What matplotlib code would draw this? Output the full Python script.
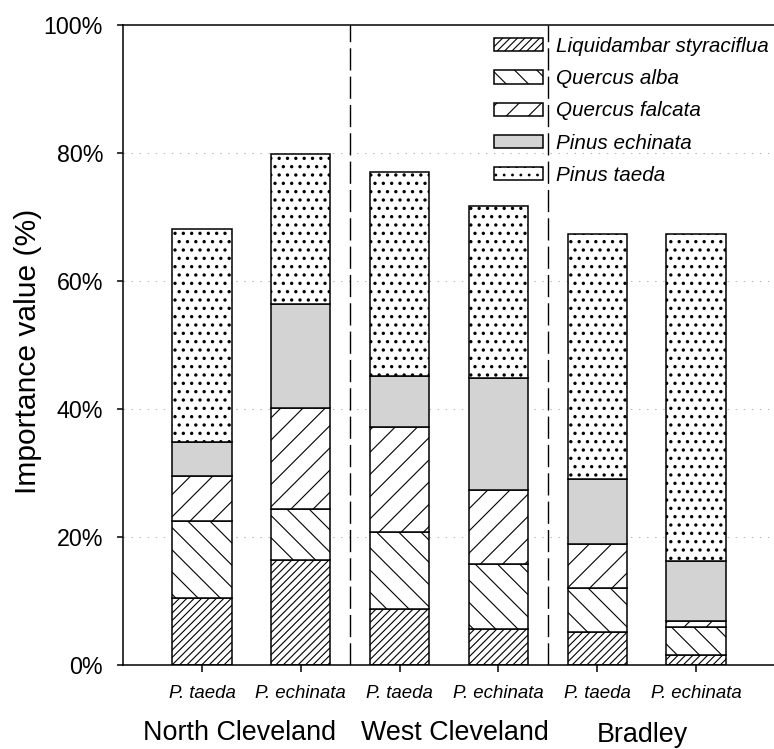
import matplotlib
matplotlib.use("Agg")
import matplotlib.pyplot as plt
import numpy as np
from matplotlib.transforms import blended_transform_factory
from matplotlib.ticker import FuncFormatter

# Stand labels (dominant pine) and site groups
stands = ["P. taeda", "P. echinata", "P. taeda", "P. echinata", "P. taeda", "P. echinata"]
sites = ["North Cleveland", "West Cleveland", "Bradley"]

# Importance value (%) of each species per stand, stacked bottom to top
species = ["Liquidambar styraciflua", "Quercus alba", "Quercus falcata",
           "Pinus echinata", "Pinus taeda"]
liquidambar = [10.4, 16.4, 8.7, 5.6, 5.2, 1.5]
quercus_alba = [12.1, 7.9, 12.1, 10.2, 6.8, 4.4]
quercus_falcata = [7.0, 15.9, 16.4, 11.6, 6.9, 0.9]
pinus_echinata = [5.4, 16.2, 7.9, 17.4, 10.1, 9.5]
pinus_taeda = [33.2, 23.4, 32.0, 26.9, 38.3, 51.0]

y_ticks = [0, 20, 40, 60, 80, 100]

plt.rcParams["font.family"] = ["Liberation Sans", "DejaVu Sans"]
plt.rcParams["hatch.linewidth"] = 0.4
plt.rcParams["lines.scale_dashes"] = False

DPI = 200
W, H = 774, 749
fig = plt.figure(figsize=(W / DPI, H / DPI), dpi=DPI)

ax_left, ax_right, ax_top, ax_bottom = 123, 775, 25, 665
ax = fig.add_axes([ax_left / W, 1 - ax_bottom / H,
                   (ax_right - ax_left) / W, (ax_bottom - ax_top) / H])

x = np.arange(len(stands))
width = 0.6
series = [liquidambar, quercus_alba, quercus_falcata, pinus_echinata, pinus_taeda]
faces = ["white", "white", "white", "#d3d3d3", "white"]
hatches = ["/" * 9, "\\" * 3, "/" * 3, None, "...."]
hatch_lw = [0.4, 0.4, 0.4, 0.4, 0.6]

bottom = np.zeros(len(stands))
for name, vals, fc, h, hlw in zip(species, series, faces, hatches, hatch_lw):
    with plt.rc_context({"hatch.linewidth": hlw}):
        ax.bar(x, vals, width, bottom=bottom, color=fc, edgecolor="black",
               linewidth=0.55, hatch=h, label=name, zorder=2)
    bottom += np.array(vals)

ax.set_xlim(-0.8, 5.8)
ax.set_ylim(0, 100)
ax.set_yticks(y_ticks)
ax.yaxis.set_major_formatter(FuncFormatter(lambda v, p: f"{v:.0f}%"))
ax.set_xticks(x)
ax.set_xticklabels(stands, fontstyle="italic", fontsize=6.7)

ax.tick_params(axis="y", direction="out", length=2.2, width=0.55, pad=5,
               labelsize=8.4)
ax.tick_params(axis="x", direction="out", length=2.6, width=0.55, pad=4.6)

for s in ["left", "bottom", "top"]:
    ax.spines[s].set_linewidth(0.55)
ax.spines["right"].set_visible(False)

# dotted horizontal reference lines
for v in y_ticks[1:-1]:
    ax.axhline(v, color="#b8b8b8", linewidth=0.4, dashes=(0.5, 2.4), zorder=0)

# dashed separators between sites
for sep in [1.5, 3.5]:
    ax.axvline(sep, color="black", linewidth=0.5, dashes=(8, 2.2), zorder=1)

ax.set_ylabel("Importance value (%)", fontsize=10.8)
ax.yaxis.set_label_coords((42 - ax_left) / (ax_right - ax_left), 0.49)

leg = ax.legend(loc="upper left", bbox_to_anchor=(494 / W, 1 - 37 / H),
                bbox_transform=fig.transFigure, frameon=False,
                prop={"style": "italic", "size": 7.45},
                handlelength=2.36, handleheight=0.6, handletextpad=0.66,
                labelspacing=0.64, borderpad=0, borderaxespad=0)

# site names beneath the stand labels
tr = blended_transform_factory(ax.transData, fig.transFigure)
site_x = [0.375, 2.56, 4.46]
site_base = [740, 740, 742.5]
for name, sx, sb in zip(sites, site_x, site_base):
    ax.text(sx, 1 - sb / H, name, transform=tr, ha="center", va="baseline",
            fontsize=9.7)

fig.savefig("out.png", dpi=DPI)
